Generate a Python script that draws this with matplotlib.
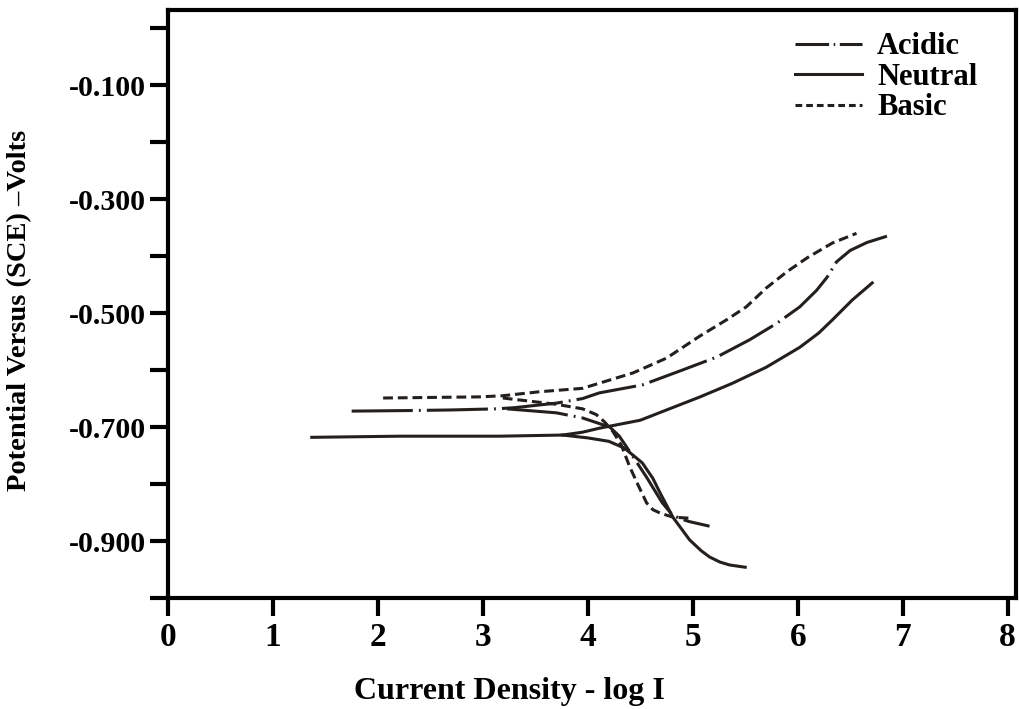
import matplotlib
matplotlib.use("Agg")
import matplotlib.pyplot as plt
from matplotlib.lines import Line2D
from matplotlib.ticker import FixedLocator

plt.rcParams['font.family'] = ['Liberation Serif', 'DejaVu Serif']
plt.rcParams['font.weight'] = 'bold'

# Acidic (dash-dot)
acidic_anodic_x = [1.75, 2.3, 2.69, 3.13, 3.3, 3.7, 3.95, 4.11, 4.52, 4.90, 5.23, 5.54, 5.80, 6.02, 6.18, 6.28, 6.37, 6.50, 6.66, 6.85]
acidic_anodic_y = [-0.672, -0.671, -0.670, -0.668, -0.666, -0.658, -0.650, -0.640, -0.626, -0.600, -0.577, -0.547, -0.518, -0.489, -0.460, -0.437, -0.410, -0.390, -0.376, -0.365]
acidic_cathodic_x = [3.23, 3.70, 3.95, 4.21, 4.30, 4.37, 4.46, 4.56, 4.71, 4.81, 4.90, 4.97, 5.16]
acidic_cathodic_y = [-0.668, -0.675, -0.684, -0.700, -0.716, -0.735, -0.760, -0.788, -0.833, -0.855, -0.862, -0.866, -0.874]

# Neutral (solid)
neutral_anodic_x = [1.37, 2.21, 3.16, 3.76, 3.95, 4.11, 4.50, 4.75, 5.07, 5.38, 5.70, 6.02, 6.20, 6.33, 6.52, 6.71]
neutral_anodic_y = [-0.718, -0.716, -0.716, -0.714, -0.709, -0.702, -0.688, -0.670, -0.647, -0.623, -0.595, -0.560, -0.535, -0.512, -0.477, -0.447]
neutral_cathodic_x = [3.76, 4.00, 4.20, 4.35, 4.52, 4.62, 4.69, 4.81, 4.97, 5.08, 5.16, 5.26, 5.35, 5.50]
neutral_cathodic_y = [-0.714, -0.719, -0.725, -0.737, -0.763, -0.790, -0.816, -0.858, -0.898, -0.917, -0.928, -0.937, -0.942, -0.946]

# Basic (dashed)
basic_anodic_x = [2.05, 2.97, 3.19, 3.54, 3.95, 4.11, 4.43, 4.75, 5.07, 5.32, 5.51, 5.70, 5.90, 6.09, 6.33, 6.56]
basic_anodic_y = [-0.649, -0.647, -0.645, -0.638, -0.632, -0.623, -0.605, -0.579, -0.540, -0.512, -0.489, -0.456, -0.427, -0.403, -0.377, -0.360]
basic_cathodic_x = [3.19, 3.70, 3.95, 4.08, 4.16, 4.24, 4.32, 4.40, 4.48, 4.56, 4.62, 4.69, 4.81, 4.97]
basic_cathodic_y = [-0.649, -0.660, -0.668, -0.678, -0.691, -0.708, -0.732, -0.770, -0.802, -0.833, -0.845, -0.851, -0.858, -0.860]

y_ticks = [-1.0, -0.9, -0.8, -0.7, -0.6, -0.5, -0.4, -0.3, -0.2, -0.1, 0.0]
y_labels = ['', '-0.900', '', '-0.700', '', '-0.500', '', '-0.300', '', '-0.100', '']
x_ticks = [0, 1, 2, 3, 4, 5, 6, 7, 8]

line_color = '#231f1c'
lw = 2.2
dashdot = (0, (20, 2, 0.6, 2))
dashed = (0, (3.2, 1.6))

fig = plt.figure(figsize=(10.19, 7.09), dpi=100)
ax = fig.add_axes([168 / 1019, 111 / 709, 848 / 1019, 588 / 709])

ax.plot(acidic_anodic_x, acidic_anodic_y, color=line_color, lw=lw, linestyle=dashdot)
ax.plot(acidic_cathodic_x, acidic_cathodic_y, color=line_color, lw=lw, linestyle=dashdot)
ax.plot(neutral_anodic_x, neutral_anodic_y, color=line_color, lw=lw, linestyle='-')
ax.plot(neutral_cathodic_x, neutral_cathodic_y, color=line_color, lw=lw, linestyle='-')
ax.plot(basic_anodic_x, basic_anodic_y, color=line_color, lw=lw, linestyle=dashed)
ax.plot(basic_cathodic_x, basic_cathodic_y, color=line_color, lw=lw, linestyle=dashed)

ax.set_xlim(0, 8.08)
ax.set_ylim(-1.0, 0.032)
ax.xaxis.set_major_locator(FixedLocator(x_ticks))
ax.set_xticklabels([str(v) for v in x_ticks], fontsize=24, fontweight='bold')
ax.yaxis.set_major_locator(FixedLocator(y_ticks))
ax.set_yticklabels(y_labels, fontsize=21.5, fontweight='bold')
ax.tick_params(axis='both', direction='out', length=13, width=3, color='black')
ax.tick_params(axis='x', pad=4)
ax.tick_params(axis='y', pad=3)

for s in ax.spines.values():
    s.set_linewidth(3)
    s.set_color('black')

ax.set_xlabel('Current Density - log I', fontsize=23, fontweight='bold')
ax.xaxis.set_label_coords((509 - 168) / 848, -(691 - 598) / 588)
ax.xaxis.label.set_va('center')
ax.set_ylabel('Potential Versus (SCE) \u2013Volts', fontsize=20.5, fontweight='bold')
ax.yaxis.set_label_coords(-(168 - 20) / 848, (598 - 310) / 588)
ax.yaxis.label.set_va('center')

handles = [
    Line2D([], [], color=line_color, lw=lw, linestyle=(0, (11, 1.5, 0.5, 1.5))),
    Line2D([], [], color=line_color, lw=lw, linestyle='-'),
    Line2D([], [], color=line_color, lw=lw, linestyle=(0, (2.2, 1.3))),
]
leg = ax.legend(handles, ['Acidic', 'Neutral', 'Basic'], loc='upper left',
                bbox_to_anchor=(0.739, 0.962), frameon=False,
                fontsize=22, handlelength=2.2, handletextpad=0.5,
                labelspacing=0.05, borderpad=0, borderaxespad=0)
for t in leg.get_texts():
    t.set_fontweight('bold')

fig.savefig('out.png', dpi=100)
